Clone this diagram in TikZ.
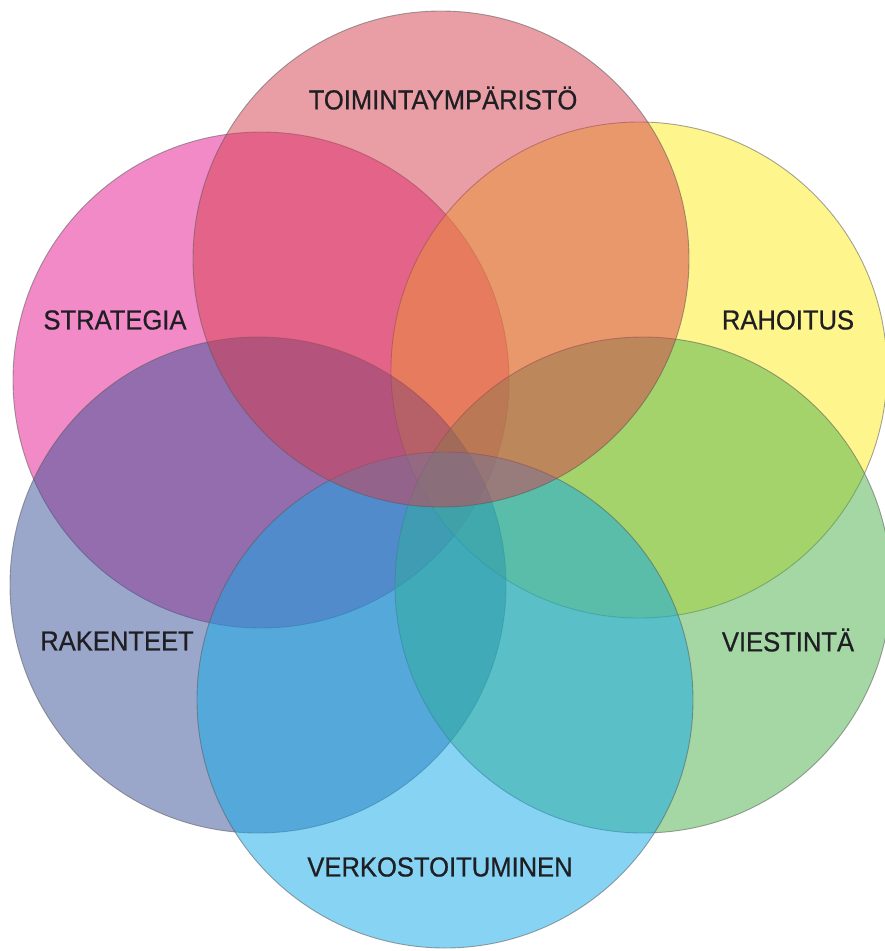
\documentclass[tikz,border=0pt]{standalone}
\usepackage{fontspec}
\setmainfont{Liberation Sans}[FakeStretch=0.93,FakeBold=0.6]
\definecolor{cT}{RGB}{213,61,77}
\definecolor{cS}{RGB}{231,23,145}
\definecolor{cR}{RGB}{255,237,29}
\definecolor{cK}{RGB}{55,81,153}
\definecolor{cVi}{RGB}{75,177,75}
\definecolor{cV}{RGB}{17,169,233}
\definecolor{txt}{RGB}{30,30,35}
\definecolor{edge}{RGB}{90,90,90}
\tikzset{
  circ/.style={circle, minimum size=496pt, inner sep=0pt, outer sep=0pt,
    fill opacity=0.5, draw=edge, draw opacity=0.55, line width=0.9pt},
  lbl/.style={text=txt, font=\fontsize{27.5}{30}\selectfont, inner sep=0pt}
}
\begin{document}
\begin{tikzpicture}[x=1pt,y=-1pt]
\useasboundingbox (0,0) rectangle (885,951);
\clip (0,0) rectangle (885,951);
\fill[white] (0,0) rectangle (885,951);
\node[circ, fill=cS] (S) at (261,380) {};
\node[circ, fill=cR] (R) at (639,370) {};
\node[circ, fill=cK] (K) at (258,585) {};
\node[circ, fill=cVi] (Vi) at (643,585) {};
\node[circ, fill=cV] (V) at (445,700) {};
\node[circ, fill=cT] (T) at (441,259) {};
\node[lbl] (lT) at (443,98) {TOIMINTAYMPÄRISTÖ};
\node[lbl] (lS) at (115,320) {STRATEGIA};
\node[lbl] (lR) at (788,320) {RAHOITUS};
\node[lbl] (lK) at (117,641) {RAKENTEET};
\node[lbl] (lVi) at (788,640) {VIESTINTÄ};
\node[lbl] (lV) at (440,867) {VERKOSTOITUMINEN};
\end{tikzpicture}
\end{document}
